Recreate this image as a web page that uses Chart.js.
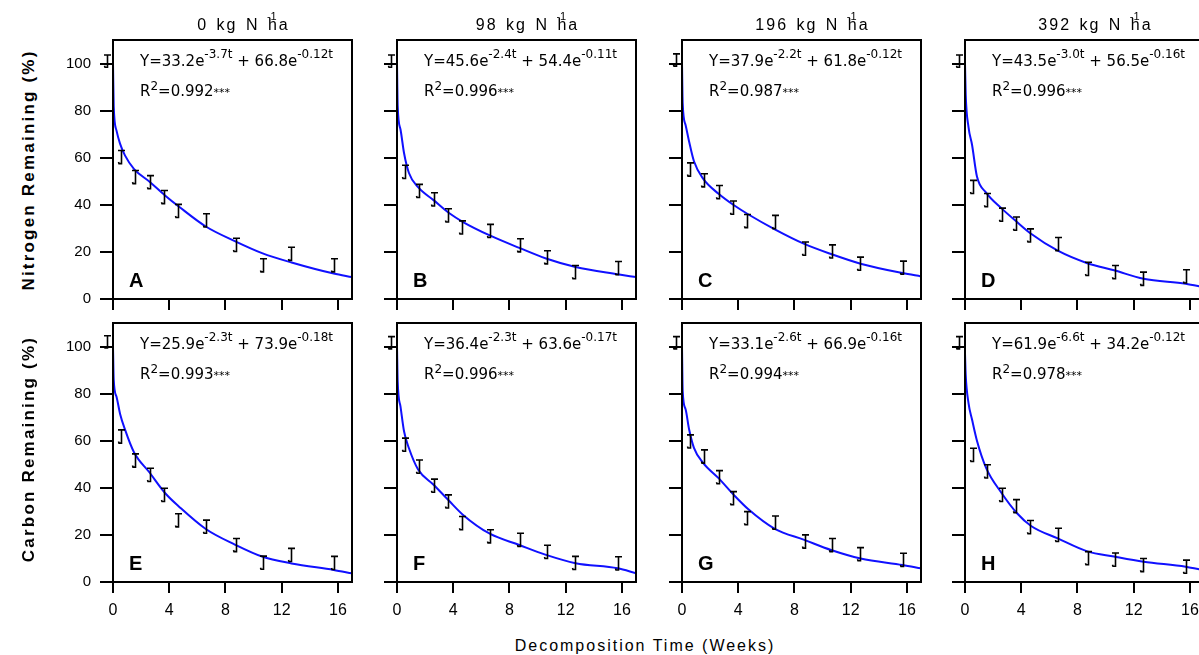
<!DOCTYPE html>
<html><head><meta charset="utf-8">
<script src="https://cdn.jsdelivr.net/npm/chart.js@4.4.1/dist/chart.umd.min.js"></script>
<style>
html,body{margin:0;padding:0;background:#fff;width:1199px;height:655px;overflow:hidden;position:relative;}
canvas{position:absolute;}
.t{position:absolute;white-space:nowrap;color:#000;line-height:1;}
.title{font-family:'Liberation Sans',Arial,sans-serif;font-size:16px;letter-spacing:2px;word-spacing:2px;transform:translateX(-50%);}
.hx{position:relative;}
.hsup{position:absolute;left:-1px;top:-5px;font-size:11px;letter-spacing:0;}
.eq{font-family:'DejaVu Sans',sans-serif;font-size:15px;}
.sp{position:relative;top:-8px;font-size:12px;}
.sp2{position:relative;top:-6px;font-size:12px;}
.ast{font-size:11px;}
.letter{font-family:'Liberation Sans',Arial,sans-serif;font-weight:bold;font-size:20px;}
.ytitle{font-family:'Liberation Sans',Arial,sans-serif;font-weight:bold;font-size:17px;letter-spacing:2.2px;transform:translate(-50%,-50%) rotate(-90deg);}
.xtitle{font-family:'Liberation Sans',Arial,sans-serif;font-size:16px;letter-spacing:2px;transform:translateX(-50%);}
</style></head><body>
<script>
// ---------- data ----------
const weeks = [-0.45, 0.55, 1.6, 2.65, 3.65, 4.65, 6.6, 8.75, 10.65, 12.65, 15.7];
const fitWeeks = [0, 0.05, 0.25, 0.5, 0.85, 1.5, 2.6, 3.7, 4.7, 6.6, 8.7, 10.6, 12.7, 15.7, 17];
const xTicks = [0, 4, 8, 12, 16];
const yTicks = [0, 20, 40, 60, 80, 100];
const rates = ['0', '98', '196', '392'];
const panelLetters = ['A','B','C','D','E','F','G','H'];
const rowTitles = ['Nitrogen Remaining (%)', 'Carbon Remaining (%)'];
const xTitle = 'Decomposition Time (Weeks)';

// Nitrogen remaining (%) means
const nitrogen0   = [101, 60.3, 51.8, 49.6, 43.3, 37.4, 33.4, 23.0, 14.3, 19.2, 14.3];
const nitrogen98  = [101, 54.0, 45.9, 42.3, 35.5, 30.4, 28.9, 22.8, 17.7, 11.4, 13.1];
const nitrogen196 = [101.5, 55.0, 50.4, 45.4, 38.8, 33.1, 32.7, 21.4, 20.2, 15.0, 13.3];
const nitrogen392 = [101, 47.6, 42.0, 35.8, 32.0, 27.0, 23.3, 12.8, 11.4, 8.6, 9.6];
// Carbon remaining (%) means
const carbon0   = [102, 61.8, 51.6, 45.5, 37.0, 26.2, 23.5, 15.7, 8.2, 11.5, 8.1];
const carbon98  = [101.6, 58.3, 49.0, 40.9, 34.2, 25.0, 19.4, 17.9, 12.8, 8.1, 7.9];
const carbon196 = [101.6, 59.7, 53.3, 44.5, 35.6, 27.1, 25.2, 17.2, 15.7, 11.8, 9.4];
const carbon392 = [101.6, 54.0, 47.0, 37.0, 32.2, 23.3, 20.0, 10.1, 9.5, 7.2, 6.5];
// error bar half-lengths
const nitrogenErr = [2.6, 2.8, 2.8, 2.8, 2.8, 2.8, 2.8, 2.8, 2.8, 2.8, 2.8];
const carbonErr   = [2.6, 2.8, 2.8, 2.8, 2.8, 2.8, 2.8, 2.8, 2.8, 2.8, 2.8];

// fitted curves (at fitWeeks)
const nitrogenFit0   = [100, 82, 71.5, 66, 61, 55.2, 49.8, 44, 39.2, 30.8, 24.5, 19.5, 15.5, 10.8, 9.3];
const nitrogenFit98  = [100, 82, 72, 62, 53.5, 47.5, 42, 36.5, 32.7, 27, 21.7, 17.2, 13.6, 10.5, 9.3];
const nitrogenFit196 = [100, 83, 74, 67, 58.5, 51.1, 44.7, 39.8, 36, 29.6, 23.4, 19.1, 15, 11, 9.6];
const nitrogenFit392 = [100, 87, 73, 65.5, 52, 45.2, 38.5, 32.7, 27.7, 20.5, 15.2, 12.2, 8.6, 6.5, 5];
const carbonFit0   = [100, 86, 78.7, 71.5, 64.8, 55, 46.5, 37.8, 32, 22.5, 15.8, 10.8, 7.9, 5.1, 3.7];
const carbonFit98  = [100, 85, 74.5, 64, 56.8, 47.8, 41.3, 34.5, 28.5, 20.5, 15.7, 11.5, 8, 5.8, 3.7];
const carbonFit196 = [100, 81, 73.5, 65, 57, 50.6, 44.1, 36.9, 31, 22.6, 17.9, 13.6, 10, 7.2, 5.8];
const carbonFit392 = [97, 88, 76, 69, 60, 48.5, 37.8, 29.2, 23.8, 18.5, 13, 10.8, 8.6, 6.5, 5];

// equations
const fastCoef = ['33.2','45.6','37.9','43.5','25.9','36.4','33.1','61.9'];
const fastRate = ['3.7','2.4','2.2','3.0','2.3','2.3','2.6','6.6'];
const slowCoef = ['66.8','54.4','61.8','56.5','73.9','63.6','66.9','34.2'];
const slowRate = ['0.12','0.11','0.12','0.16','0.18','0.17','0.16','0.12'];
const rSquared = ['0.992','0.996','0.987','0.996','0.993','0.996','0.994','0.978'];

// ---------- layout ----------
const colLeft = [113, 397, 682, 965];
const rowTop = [40, 323];
const PW = 239, PH = 259;

const means = [nitrogen0, nitrogen98, nitrogen196, nitrogen392, carbon0, carbon98, carbon196, carbon392];
const fits = [nitrogenFit0, nitrogenFit98, nitrogenFit196, nitrogenFit392, carbonFit0, carbonFit98, carbonFit196, carbonFit392];

Chart.defaults.font.family = "'Liberation Sans', Arial, sans-serif";
Chart.defaults.color = '#000';

const framePlugin = {
  id: 'frame',
  afterDraw(chart) {
    const {ctx, chartArea: a} = chart;
    ctx.save();
    ctx.strokeStyle = '#000';
    ctx.lineWidth = 2;
    ctx.strokeRect(a.left, a.top, a.right - a.left, a.bottom - a.top);
    ctx.restore();
  }
};
const errPlugin = {
  id: 'errGlyphs',
  afterDatasetsDraw(chart) {
    const ds = chart.data.datasets[1];
    const xs = chart.scales.x, ys = chart.scales.y;
    const ctx = chart.ctx;
    ctx.save();
    ctx.strokeStyle = '#000';
    ctx.lineWidth = 1.6;
    ds.data.forEach(p => {
      const x = Math.round(xs.getPixelForValue(p.x)) + 0.5;
      const yt = ys.getPixelForValue(p.y + p.err);
      const yb = ys.getPixelForValue(p.y - p.err);
      ctx.beginPath();
      ctx.moveTo(x - 3.5, yt); ctx.lineTo(x + 3.5, yt);
      ctx.moveTo(x, yt); ctx.lineTo(x, yb);
      ctx.lineTo(x - 2.5, yb); ctx.lineTo(x - 3, yb - 1.5);
      ctx.stroke();
    });
    ctx.restore();
  }
};

function addText(cls, html, left, top) {
  const d = document.createElement('div');
  d.className = 't ' + cls;
  d.innerHTML = html;
  d.style.left = left + 'px';
  d.style.top = top + 'px';
  document.body.appendChild(d);
  return d;
}

for (let i = 0; i < 8; i++) {
  const row = Math.floor(i / 4), col = i % 4;
  const L = colLeft[col], T = rowTop[row];
  const cv = document.createElement('canvas');
  cv.width = PW + 70; cv.height = PH + 55;
  cv.style.left = (L - 60) + 'px';
  cv.style.top = (T - 10) + 'px';
  document.body.appendChild(cv);
  const showY = col === 0, showX = row === 1;
  new Chart(cv, {
    type: 'scatter',
    data: {
      datasets: [
        {
          data: fitWeeks.map((t, k) => ({x: t, y: fits[i][k]})),
          showLine: true, borderColor: '#1010ff', borderWidth: 2,
          pointRadius: 0, cubicInterpolationMode: 'monotone', fill: false
        },
        {
          data: weeks.map((t, k) => ({x: t, y: means[i][k], err: (row === 0 ? nitrogenErr : carbonErr)[k]})),
          showLine: false, pointRadius: 0
        }
      ]
    },
    options: {
      responsive: false, animation: false, devicePixelRatio: 1,
      layout: {padding: {left: 10, top: 10, right: 10, bottom: 5}},
      plugins: {legend: {display: false}, tooltip: {enabled: false}},
      scales: {
        x: {
          type: 'linear', min: 0, max: 17,
          afterBuildTicks: s => { s.ticks = xTicks.map(v => ({value: v})); },
          afterFit: s => { s.height = 40; s.paddingLeft = 0; s.paddingRight = 0; },
          border: {display: false},
          grid: {drawOnChartArea: false, drawTicks: true, tickLength: 11, color: '#000', lineWidth: 2},
          ticks: {padding: 8, font: {size: 16}, color: '#000', maxRotation: 0,
                  callback: v => showX ? String(v) : ''}
        },
        y: {
          type: 'linear', min: 0, max: 110,
          afterBuildTicks: s => { s.ticks = yTicks.map(v => ({value: v})); },
          afterFit: s => { s.width = 50; s.paddingTop = 0; s.paddingBottom = 0; },
          border: {display: false},
          grid: {drawOnChartArea: false, drawTicks: true, tickLength: 13, color: '#000', lineWidth: 2},
          ticks: {padding: 9, font: {size: 15}, color: '#000',
                  callback: v => showY ? String(v) : ''}
        }
      }
    },
    plugins: [errPlugin, framePlugin]
  });

  // equation and R2
  addText('eq', `Y=${fastCoef[i]}e<span class="sp">-${fastRate[i]}t</span> + ${slowCoef[i]}e<span class="sp">-${slowRate[i]}t</span>`,
          L + 27, T + 27 - 0.846 * 15);
  addText('eq', `R<span class="sp2">2</span>=${rSquared[i]}<span class="ast">***</span>`,
          L + 27, T + 57 - 0.846 * 15);
  addText('letter', panelLetters[i], L + 16, T + PH - 12 - 0.846 * 20);
}

// column titles
for (let c = 0; c < 4; c++) {
  addText('title', `${rates[c]} kg N <span class="hx">ha<span class="hsup">-1</span></span>`,
          colLeft[c] + PW / 2 + 11, 30.7 - 0.846 * 16);
}
// row titles
addText('ytitle', rowTitles[0], 28, rowTop[0] + PH / 2);
addText('ytitle', rowTitles[1], 28, rowTop[1] + PH / 2 - 4);
// x title
addText('xtitle', xTitle, 645, 652 - 0.846 * 16);
</script>
</body></html>
